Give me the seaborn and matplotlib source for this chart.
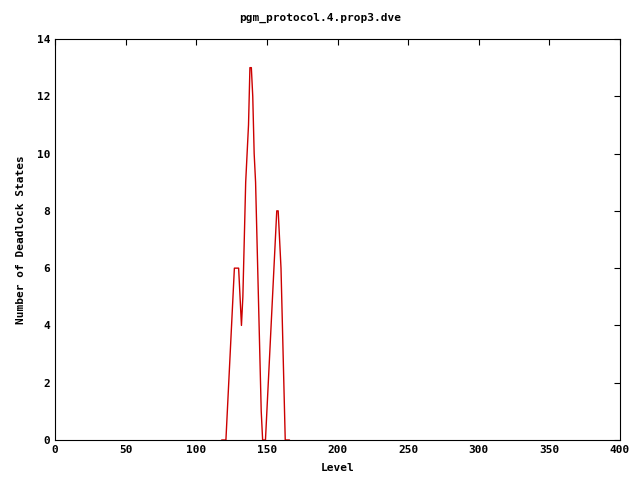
import matplotlib
matplotlib.use("Agg")
import matplotlib.pyplot as plt
import seaborn as sns
import pandas as pd

sns.set_style("white")
plt.rcParams['font.family'] = ['DejaVu Sans Mono']
plt.rcParams['text.color'] = 'black'
plt.rcParams['axes.labelcolor'] = 'black'
plt.rcParams['xtick.color'] = 'black'
plt.rcParams['ytick.color'] = 'black'

title = "pgm_protocol.4.prop3.dve"
x_label = "Level"
y_label = "Number of Deadlock States"

levels = list(range(118, 167))
states = [0, 0, 0, 0, 1, 2, 3, 4, 5, 6, 6, 6, 6, 5, 4, 5, 7, 9, 10, 11,
          13, 13, 12, 10, 9, 7, 5, 3, 1, 0, 0, 0, 1, 2, 3, 4, 5, 6, 7, 8,
          8, 7, 6, 4, 2, 0, 0, 0, 0]
x_ticks = [0, 50, 100, 150, 200, 250, 300, 350, 400]
y_ticks = [0, 2, 4, 6, 8, 10, 12, 14]

df = pd.DataFrame({"level": levels, "states": states})

fig = plt.figure(figsize=(6.4, 4.8), dpi=100)
ax = fig.add_axes([55/640, 40/480, 565/640, 401/480])
sns.lineplot(data=df, x="level", y="states", ax=ax, color="#cc0000", linewidth=1.0)

ax.set_xlim(0, 400)
ax.set_ylim(0, 14)
ax.set_xticks(x_ticks)
ax.set_yticks(y_ticks)
ax.tick_params(direction="in", length=4, width=0.8, top=True, right=True,
               labelsize=8, colors="black")
for lab in ax.get_xticklabels() + ax.get_yticklabels():
    lab.set_fontweight("bold")
for s in ax.spines.values():
    s.set_linewidth(0.8)
    s.set_color("black")
ax.set_xlabel(x_label, fontsize=8, fontweight="bold", labelpad=6, color="black")
ax.set_ylabel(y_label, fontsize=8, fontweight="bold", labelpad=8, color="black")
fig.text(0.5, 1 - 18/480, title, ha="center", va="center", fontsize=8,
         fontweight="bold", color="black")

fig.savefig("out.png", dpi=100)
